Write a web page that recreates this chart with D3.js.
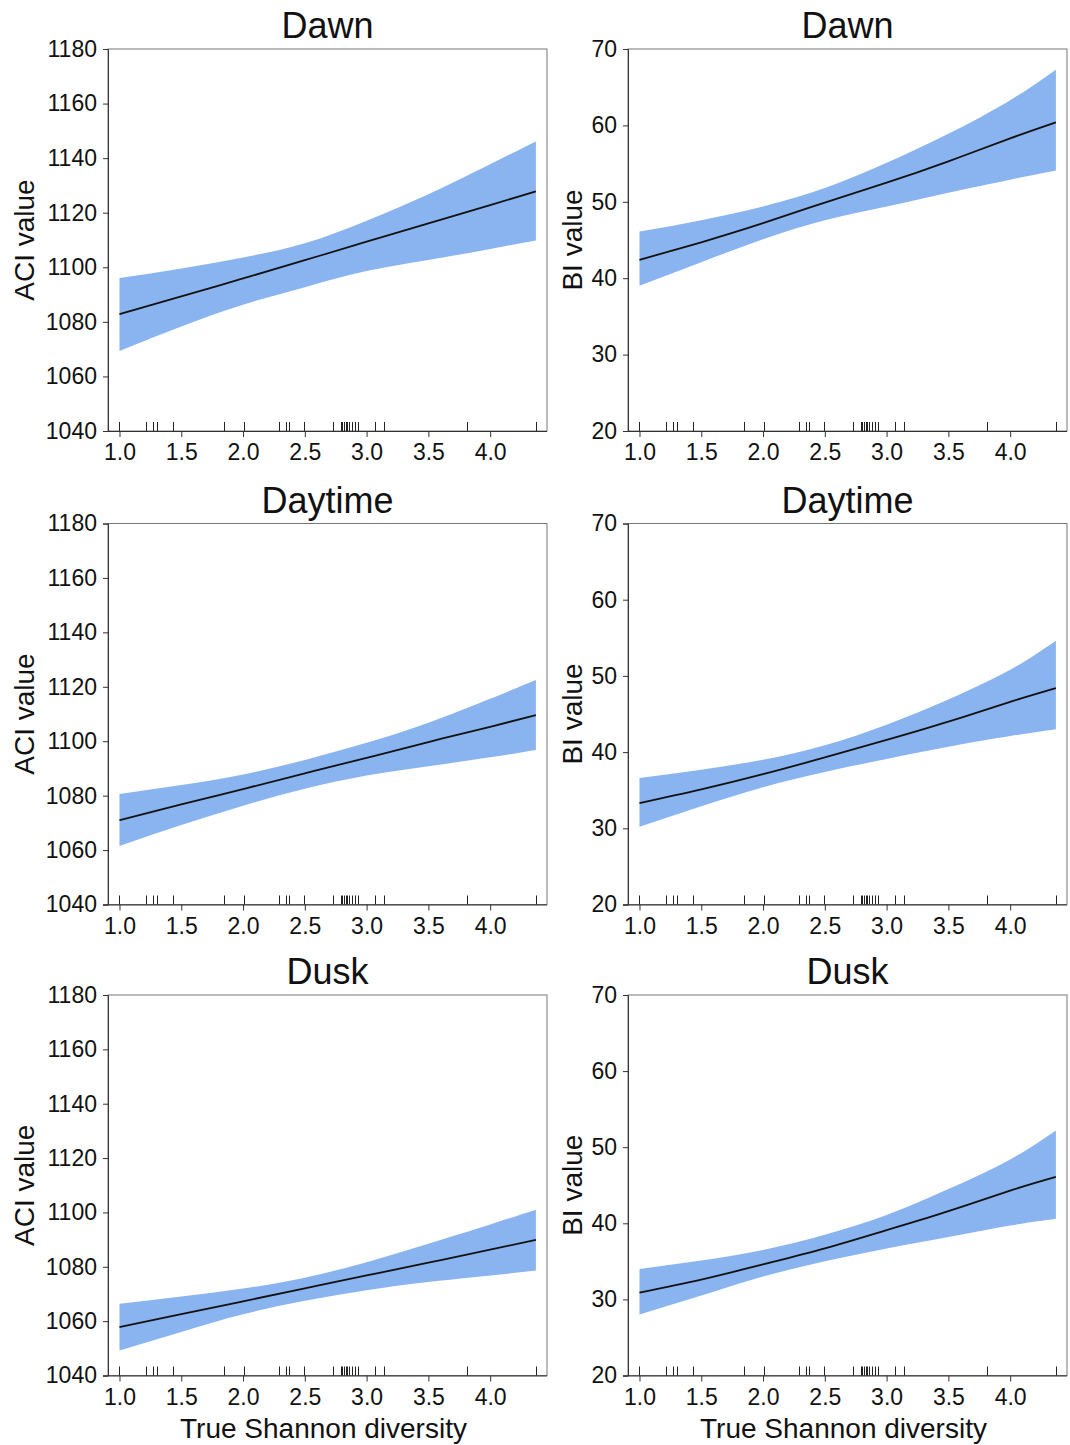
<!DOCTYPE html>
<html>
<head>
<meta charset="utf-8">
<script src="https://cdn.jsdelivr.net/npm/d3@7"></script>
<style>
  body { margin: 0; background: #fff; }
  svg text { font-family: "Liberation Sans", Arial, sans-serif; fill: #111; }
</style>
</head>
<body>
<div id="chart"></div>
<script>
const xs = [1.0, 1.5, 2.0, 2.5, 3.0, 3.5, 4.0, 4.37];

// observed diversity values (rug)
const rug = [1.0, 1.211, 1.27, 1.303, 1.432, 1.846, 2.005, 2.292, 2.351, 2.37, 2.497,
  2.73, 2.789, 2.803, 2.816, 2.83, 2.843, 2.859, 2.878, 2.905, 2.932, 3.065, 3.141, 3.816, 4.373];

// ACI, dawn
const dawnAciFit = [1082.8, 1089.3, 1095.9, 1102.6, 1109.4, 1116.1, 1122.8, 1127.8];
const dawnAciLo  = [1069.3, 1078.3, 1086.3, 1092.7, 1098.6, 1102.7, 1106.7, 1109.8];
const dawnAciHi  = [1096.1, 1099.6, 1103.6, 1108.8, 1117.1, 1126.8, 1137.8, 1146.1];
// BI, dawn
const dawnBiFit = [42.4, 44.7, 47.2, 49.9, 52.5, 55.3, 58.3, 60.4];
const dawnBiLo  = [39.0, 42.1, 45.1, 47.6, 49.4, 51.2, 52.9, 54.1];
const dawnBiHi  = [46.1, 47.6, 49.4, 51.8, 55.1, 58.9, 63.3, 67.3];
// ACI, daytime
const dayAciFit = [1071.0, 1076.8, 1082.4, 1088.2, 1093.9, 1099.7, 1105.3, 1109.6];
const dayAciLo  = [1061.5, 1069.2, 1076.3, 1082.5, 1087.4, 1090.8, 1094.1, 1096.8];
const dayAciHi  = [1080.6, 1083.9, 1087.8, 1093.1, 1099.4, 1106.8, 1115.6, 1122.5];
// BI, daytime
const dayBiFit = [33.3, 35.1, 37.1, 39.3, 41.6, 44.0, 46.6, 48.4];
const dayBiLo  = [30.2, 32.9, 35.4, 37.4, 39.1, 40.7, 42.1, 43.0];
const dayBiHi  = [36.6, 37.7, 39.0, 40.9, 43.6, 46.9, 50.8, 54.6];
// ACI, dusk
const duskAciFit = [1057.8, 1062.6, 1067.3, 1072.1, 1076.8, 1081.5, 1086.3, 1089.9];
const duskAciLo  = [1049.2, 1056.0, 1062.5, 1067.5, 1071.4, 1074.4, 1076.8, 1078.6];
const duskAciHi  = [1066.4, 1069.1, 1072.0, 1076.0, 1081.7, 1088.5, 1095.6, 1101.0];
// BI, dusk
const duskBiFit = [30.9, 32.6, 34.6, 36.7, 39.1, 41.6, 44.3, 46.1];
const duskBiLo  = [28.0, 30.5, 33.0, 35.0, 36.7, 38.2, 39.7, 40.6];
const duskBiHi  = [34.0, 35.1, 36.5, 38.5, 41.1, 44.5, 48.4, 52.2];

const xTicks = [1.0, 1.5, 2.0, 2.5, 3.0, 3.5, 4.0];
const aciTicks = [1040, 1060, 1080, 1100, 1120, 1140, 1160, 1180];
const biTicks = [20, 30, 40, 50, 60, 70];
const rowTitles = ["Dawn", "Daytime", "Dusk"];

const W = 1070, H = 1445;
const cols = [{x0: 108, x1: 547}, {x0: 628, x1: 1067}];
const rows = [{y0: 49, y1: 431}, {y0: 523.5, y1: 904.5}, {y0: 995, y1: 1375.5}];

const panels = [
  {r: 0, c: 0, fit: dawnAciFit, lo: dawnAciLo, hi: dawnAciHi},
  {r: 0, c: 1, fit: dawnBiFit,  lo: dawnBiLo,  hi: dawnBiHi},
  {r: 1, c: 0, fit: dayAciFit,  lo: dayAciLo,  hi: dayAciHi},
  {r: 1, c: 1, fit: dayBiFit,   lo: dayBiLo,   hi: dayBiHi},
  {r: 2, c: 0, fit: duskAciFit, lo: duskAciLo, hi: duskAciHi},
  {r: 2, c: 1, fit: duskBiFit,  lo: duskBiLo,  hi: duskBiHi}
];

const svg = d3.select("#chart").append("svg")
  .attr("width", W).attr("height", H);

panels.forEach(p => {
  const col = cols[p.c], row = rows[p.r];
  const isAci = p.c === 0;

  const x = d3.scaleLinear().domain([0.907, 4.46]).range([col.x0, col.x1]);
  const y = d3.scaleLinear()
    .domain(isAci ? [1040, 1180] : [20, 70])
    .range([row.y1, row.y0]);

  const g = svg.append("g");
  const pts = xs.map((v, i) => ({x: v, fit: p.fit[i], lo: p.lo[i], hi: p.hi[i]}));

  // confidence band
  g.append("path")
    .datum(pts)
    .attr("fill", "#8ab4f0")
    .attr("d", d3.area()
      .curve(d3.curveNatural)
      .x(d => x(d.x))
      .y0(d => y(d.lo))
      .y1(d => y(d.hi)));

  // fitted line
  g.append("path")
    .datum(pts)
    .attr("fill", "none")
    .attr("stroke", "#111")
    .attr("stroke-width", 1.8)
    .attr("d", d3.line()
      .curve(d3.curveNatural)
      .x(d => x(d.x))
      .y(d => y(d.fit)));

  // box
  g.append("rect")
    .attr("x", col.x0).attr("y", row.y0)
    .attr("width", col.x1 - col.x0).attr("height", row.y1 - row.y0)
    .attr("fill", "none").attr("stroke", "#777").attr("stroke-width", 1);

  // rug
  g.selectAll("line.rug").data(rug).join("line")
    .attr("class", "rug")
    .attr("x1", d => Math.round(x(d)) + 0.5).attr("x2", d => Math.round(x(d)) + 0.5)
    .attr("y1", row.y1).attr("y2", row.y1 - 9)
    .attr("stroke", "#222").attr("stroke-width", 1);

  // axes
  const xAxis = g.append("g")
    .attr("transform", `translate(0,${row.y1})`)
    .call(d3.axisBottom(x).tickValues(xTicks).tickFormat(d3.format(".1f"))
      .tickSize(6).tickPadding(7));
  const yAxis = g.append("g")
    .attr("transform", `translate(${col.x0},0)`)
    .call(d3.axisLeft(y).tickValues(isAci ? aciTicks : biTicks)
      .tickFormat(d3.format("d"))
      .tickSize(5).tickPadding(6));

  [xAxis, yAxis].forEach(a => {
    a.select(".domain").attr("stroke", "#333");
    a.selectAll(".tick line").attr("stroke", "#333");
    a.selectAll(".tick text")
      .style("font-size", "23px")
      .attr("fill", "#1a1a1a");
  });
  xAxis.select(".domain").attr("d", `M${col.x0 - 5},0.5H${col.x1}`);

  // title
  g.append("text")
    .attr("x", (col.x0 + col.x1) / 2).attr("y", row.y0 - 11)
    .attr("text-anchor", "middle")
    .style("font-size", "36px")
    .text(rowTitles[p.r]);

  // y label
  const lx = isAci ? 34 : 582;
  g.append("text")
    .attr("transform", `translate(${lx},${(row.y0 + row.y1) / 2}) rotate(-90)`)
    .attr("text-anchor", "middle")
    .style("font-size", "28px")
    .text(isAci ? "ACI value" : "BI value");

  // x label, bottom row only
  if (p.r === 2) {
    g.append("text")
      .attr("x", (col.x0 + col.x1) / 2 - 4).attr("y", 1438)
      .attr("text-anchor", "middle")
      .style("font-size", "28px")
      .text("True Shannon diversity");
  }
});
</script>
</body>
</html>
